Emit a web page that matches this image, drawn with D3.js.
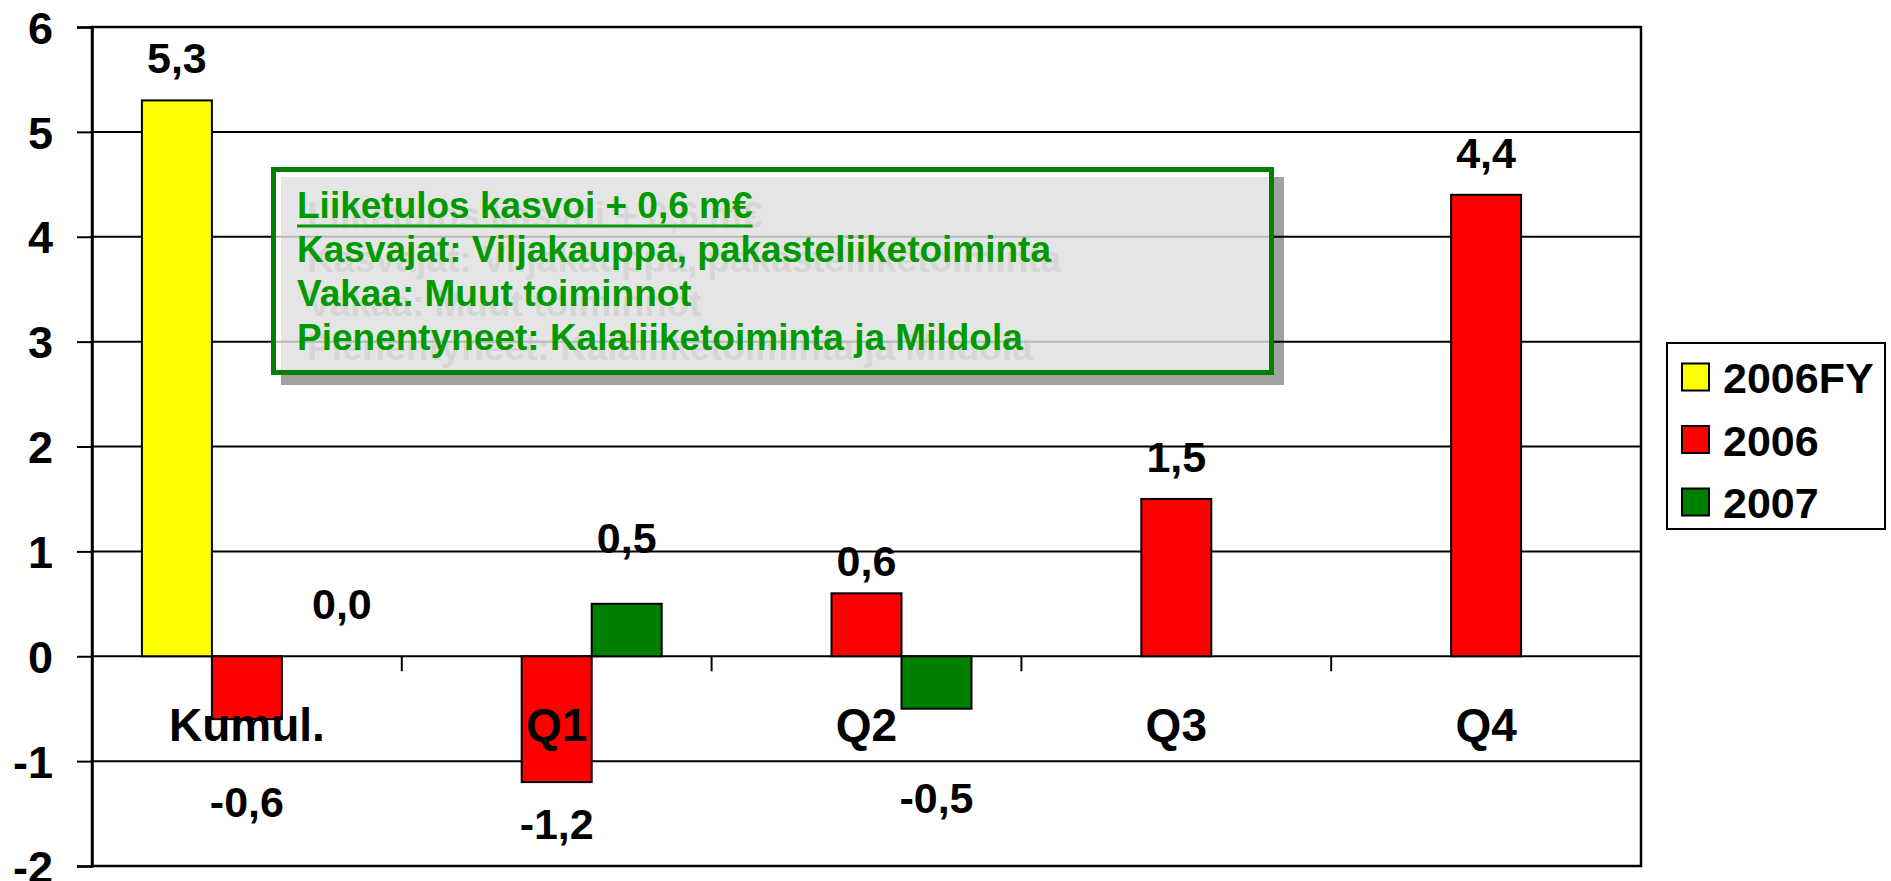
<!DOCTYPE html>
<html>
<head>
<meta charset="utf-8">
<script src="https://cdn.jsdelivr.net/npm/d3@7"></script>
<style>
  html, body { margin: 0; padding: 0; background: #fff; }
  svg { display: block; font-family: "Liberation Sans", Arial, sans-serif; font-weight: bold; }
</style>
</head>
<body>
<div id="chart"></div>
<script>
// data
const categories = ["Kumul.", "Q1", "Q2", "Q3", "Q4"];
const seriesNames = ["2006FY", "2006", "2007"];
const values2006FY = [5.3, null, null, null, null];
const values2006 = [-0.6, -1.2, 0.6, 1.5, 4.4];
const values2007 = [0.0, 0.5, -0.5, null, null];
const yTicks = [-2, -1, 0, 1, 2, 3, 4, 5, 6];
const noteTitle = "Liiketulos kasvoi + 0,6 m€";
const noteLines = [
  "Kasvajat: Viljakauppa, pakasteliiketoiminta",
  "Vakaa: Muut toiminnot",
  "Pienentyneet: Kalaliiketoiminta ja Mildola"
];

const seriesColors = { "2006FY": "#ffff00", "2006": "#ff0000", "2007": "#008000" };

// hand placed labels in the original slide
const labelNudge = {
  "Kumul.|2007": [25, -10],
  "Kumul.|2006": [0, 41],
  "Q1|2007": [0, -24],
  "Q2|2006": [0, 10],
  "Q2|2007": [0, 47]
};

const width = 1891, height = 881;
const plot = { left: 92, right: 1641, top: 27, bottom: 866 };

const svg = d3.select("#chart").append("svg")
  .attr("width", width)
  .attr("height", height);

const x0 = d3.scaleBand()
  .domain(categories)
  .range([plot.left, plot.right])
  .paddingInner(0)
  .paddingOuter(0);

const x1 = d3.scaleBand()
  .domain(seriesNames)
  .range([0, x0.bandwidth()])
  .paddingInner(0)
  .paddingOuter(0.713);

const y = d3.scaleLinear()
  .domain([-2, 6])
  .range([plot.bottom, plot.top]);

const rows = [];
const seriesValues = { "2006FY": values2006FY, "2006": values2006, "2007": values2007 };
seriesNames.forEach(s => {
  categories.forEach((c, i) => {
    const v = seriesValues[s][i];
    if (v != null) rows.push({ cat: c, series: s, value: v });
  });
});

// gridlines
svg.append("g")
  .selectAll("line")
  .data(yTicks)
  .enter()
  .append("line")
  .attr("x1", plot.left)
  .attr("x2", plot.right)
  .attr("y1", d => y(d))
  .attr("y2", d => y(d))
  .attr("stroke", "#000")
  .attr("stroke-width", 2);

// plot frame
svg.append("rect")
  .attr("x", plot.left)
  .attr("y", plot.top)
  .attr("width", plot.right - plot.left)
  .attr("height", plot.bottom - plot.top)
  .attr("fill", "none")
  .attr("stroke", "#000")
  .attr("stroke-width", 2.5);

// y axis
const yAxis = svg.append("g")
  .attr("transform", `translate(${plot.left},0)`)
  .call(d3.axisLeft(y).tickValues(yTicks).tickSize(15).tickPadding(24).tickFormat(d => String(d)));
yAxis.select(".domain").attr("stroke", "#000").attr("stroke-width", 2.5);
yAxis.selectAll("line").attr("stroke", "#000").attr("stroke-width", 2);
yAxis.selectAll("text")
  .attr("fill", "#000")
  .attr("font-size", 45)
  .attr("font-family", "'Liberation Sans', Arial, sans-serif")
  .attr("font-weight", "bold")
  .attr("dy", "0.36em");

// category ticks on the zero line
const boundaries = categories.map(c => x0(c)).concat([plot.right]);
svg.append("g")
  .selectAll("line")
  .data(boundaries)
  .enter()
  .append("line")
  .attr("x1", d => d)
  .attr("x2", d => d)
  .attr("y1", y(0))
  .attr("y2", y(0) + 15)
  .attr("stroke", "#000")
  .attr("stroke-width", 2);

// bars
svg.append("g")
  .selectAll("rect")
  .data(rows.filter(d => d.value !== 0))
  .enter()
  .append("rect")
  .attr("x", d => x0(d.cat) + x1(d.series))
  .attr("y", d => y(Math.max(0, d.value)))
  .attr("width", x1.bandwidth())
  .attr("height", d => Math.abs(y(d.value) - y(0)))
  .attr("fill", d => seriesColors[d.series])
  .attr("stroke", "#000")
  .attr("stroke-width", 2);

// category labels
svg.append("g")
  .selectAll("text")
  .data(categories)
  .enter()
  .append("text")
  .attr("x", d => x0(d) + x0.bandwidth() / 2)
  .attr("y", y(0) + 85)
  .attr("text-anchor", "middle")
  .attr("font-size", 46)
  .attr("fill", "#000")
  .text(d => d);

// value labels
const fmt = v => v.toFixed(1).replace(".", ",");
svg.append("g")
  .selectAll("text")
  .data(rows)
  .enter()
  .append("text")
  .attr("x", d => {
    const n = labelNudge[d.cat + "|" + d.series] || [0, 0];
    return x0(d.cat) + x1(d.series) + x1.bandwidth() / 2 + n[0];
  })
  .attr("y", d => {
    const n = labelNudge[d.cat + "|" + d.series] || [0, 0];
    const base = d.value >= 0 ? y(d.value) - 27 : y(d.value) + 57;
    return base + n[1];
  })
  .attr("text-anchor", "middle")
  .attr("font-size", 43)
  .attr("fill", "#000")
  .text(d => fmt(d.value));

// note box
const box = { x: 271, y: 167, w: 1003, h: 208 };
const textX = 297, firstBase = 218, lineGap = 44, noteSize = 37;
const allLines = [noteTitle].concat(noteLines);

const shadow = svg.append("g").attr("transform", "translate(10,10)");
shadow.append("rect")
  .attr("x", box.x)
  .attr("y", box.y)
  .attr("width", box.w)
  .attr("height", box.h)
  .attr("fill", "#000")
  .attr("fill-opacity", 0.37);
shadow.selectAll("text")
  .data(allLines)
  .enter()
  .append("text")
  .attr("x", textX)
  .attr("y", (d, i) => firstBase + i * lineGap)
  .attr("font-size", noteSize)
  .attr("fill", "#000")
  .attr("fill-opacity", 0.37)
  .text(d => d);

svg.append("rect")
  .attr("x", box.x + 2.5)
  .attr("y", box.y + 2.5)
  .attr("width", box.w - 5)
  .attr("height", box.h - 5)
  .attr("fill", "#fff")
  .attr("fill-opacity", 0.726)
  .attr("stroke", "#008000")
  .attr("stroke-width", 5);

const noteText = svg.append("g");
noteText.selectAll("text")
  .data(allLines)
  .enter()
  .append("text")
  .attr("x", textX)
  .attr("y", (d, i) => firstBase + i * lineGap)
  .attr("font-size", noteSize)
  .attr("fill", "#009900")
  .text(d => d);

// underline of the title
const titleLen = noteText.select("text").node().getComputedTextLength();
noteText.append("line")
  .attr("x1", textX)
  .attr("x2", textX + titleLen)
  .attr("y1", firstBase + 8)
  .attr("y2", firstBase + 8)
  .attr("stroke", "#009900")
  .attr("stroke-width", 3);

// legend
const legend = svg.append("g");
legend.append("rect")
  .attr("x", 1667)
  .attr("y", 343)
  .attr("width", 218)
  .attr("height", 186)
  .attr("fill", "#fff")
  .attr("stroke", "#000")
  .attr("stroke-width", 2);

const legendItems = legend.selectAll("g.item")
  .data(seriesNames)
  .enter()
  .append("g")
  .attr("class", "item")
  .attr("transform", (d, i) => `translate(1682,${377 + i * 62.5})`);

legendItems.append("rect")
  .attr("x", 0)
  .attr("y", -13.5)
  .attr("width", 27)
  .attr("height", 27)
  .attr("fill", d => seriesColors[d])
  .attr("stroke", "#000")
  .attr("stroke-width", 2);

legendItems.append("text")
  .attr("x", 41)
  .attr("y", 16)
  .attr("font-size", 43)
  .attr("fill", "#000")
  .text(d => d);
</script>
</body>
</html>
